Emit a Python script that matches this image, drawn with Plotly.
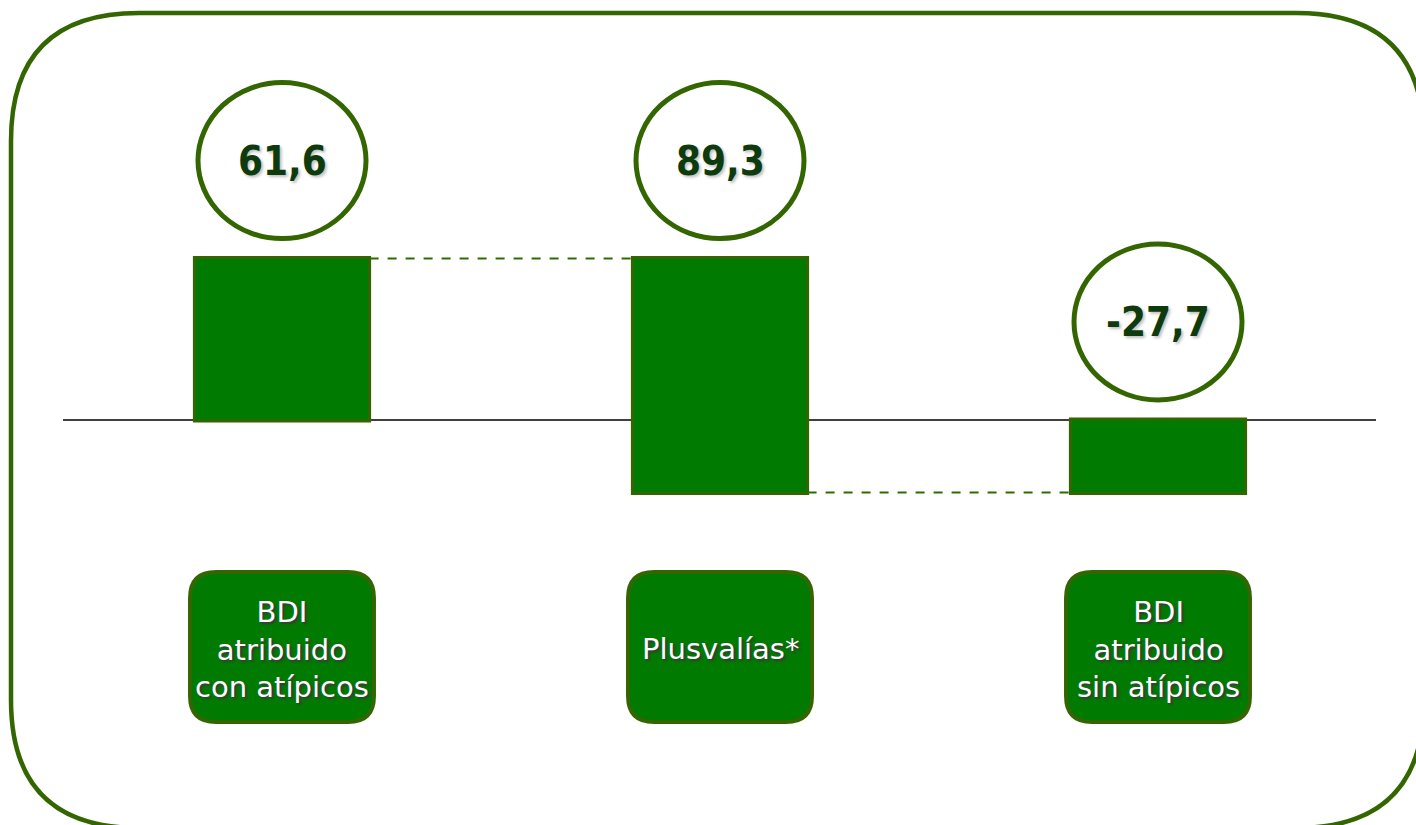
import plotly.graph_objects as go

# Datos (millones de euros)
categorias = ["BDI<br>atribuido<br>con atípicos", "Plusvalías*", "BDI<br>atribuido<br>sin atípicos"]
medidas = ["absolute", "relative", "total"]
valores = [61.6, -89.3, 0]          # valores del waterfall
etiquetas = [61.6, 89.3, -27.7]     # cifras mostradas en las elipses

W, H = 1416, 825
VERDE = "#007a00"
BORDE = "#336600"

# Parte alta de cada barra, para colocar la elipse encima
acum = 0
tops = []
for m, v in zip(medidas, valores):
    if m == "absolute":
        ini, fin = 0, v
        acum = v
    elif m == "relative":
        ini, fin = acum, acum + v
        acum = fin
    else:
        ini, fin = 0, acum
    tops.append(max(ini, fin))

fig = go.Figure(go.Waterfall(
    x=list(range(len(categorias))),
    y=valores,
    measure=medidas,
    width=0.4,
    textinfo="none",
    hoverinfo="skip",
    increasing=dict(marker=dict(color=VERDE, line=dict(color=BORDE, width=3))),
    decreasing=dict(marker=dict(color=VERDE, line=dict(color=BORDE, width=3))),
    totals=dict(marker=dict(color=VERDE, line=dict(color=BORDE, width=3))),
    connector=dict(mode="between", line=dict(color="#2a6e00", width=2, dash="dash")),
))

# escala: 438 px por categoría, cero en y=420 px
px_cat = 438
px_unit = 2.62
fig.update_xaxes(visible=False, range=[-282 / px_cat, (W - 282) / px_cat])
fig.update_yaxes(visible=False, range=[-(H - 420) / px_unit, 420 / px_unit])

shapes = []

def px2paper(x, y):
    return x / W, 1 - y / H

def rect_redondeado(x0, y0, x1, y1, rx, ry):
    return (f"M {x0+rx},{y0} L {x1-rx},{y0} Q {x1},{y0} {x1},{y0-ry} "
            f"L {x1},{y1+ry} Q {x1},{y1} {x1-rx},{y1} L {x0+rx},{y1} "
            f"Q {x0},{y1} {x0},{y1+ry} L {x0},{y0-ry} Q {x0},{y0} {x0+rx},{y0} Z")

# marco redondeado
fx0, fy0 = px2paper(11, 13)
fx1, fy1 = px2paper(1424, 828)
shapes.append(dict(type="path", xref="paper", yref="paper",
                   path=rect_redondeado(fx0, fy0, fx1, fy1, 128 / W, 128 / H),
                   line=dict(color=BORDE, width=4.5)))

# línea del cero
shapes.append(dict(type="line", xref="paper", yref="y", x0=63 / W, x1=1376 / W, y0=0, y1=0,
                   line=dict(color="black", width=1.5), layer="below"))

annotations = []
for i, (cat, val, top) in enumerate(zip(categorias, etiquetas, tops)):
    # elipse con la cifra
    shapes.append(dict(type="circle", xref="x", yref="y", xsizemode="pixel", ysizemode="pixel",
                       xanchor=i, yanchor=top, x0=-84, x1=84, y0=20, y1=176,
                       line=dict(color=BORDE, width=5), fillcolor="white"))
    annotations.append(dict(x=i, y=top, xref="x", yref="y", yshift=98, showarrow=False,
                            text=f"<b>{val:.1f}</b>".replace(".", ","),
                            font=dict(family="DejaVu Sans Condensed, DejaVu Sans", size=40,
                                      color="#0d3b0d", shadow="2px 2px 3px #c0c0c0")))
    # caja de la categoría
    shapes.append(dict(type="path", xref="x", yref="paper",
                       path=rect_redondeado(i - 0.21, 1 - 572 / H, i + 0.21, 1 - 722 / H,
                                            26 / px_cat, 26 / H),
                       fillcolor=VERDE, line=dict(color=BORDE, width=4)))
    annotations.append(dict(x=i, y=1 - 649 / H, xref="x", yref="paper", showarrow=False,
                            yanchor="middle", text=cat, align="center",
                            font=dict(family="DejaVu Sans", size=29, color="white",
                                      shadow="2px 2px 2px #3a3a3a")))

fig.update_layout(
    width=W, height=H,
    margin=dict(l=0, r=0, t=0, b=0),
    paper_bgcolor="white",
    plot_bgcolor="white",
    showlegend=False,
    shapes=shapes,
    annotations=annotations,
)

fig.write_html("out.html", config={"displayModeBar": False},
               post_script="document.body.style.margin='0';")
